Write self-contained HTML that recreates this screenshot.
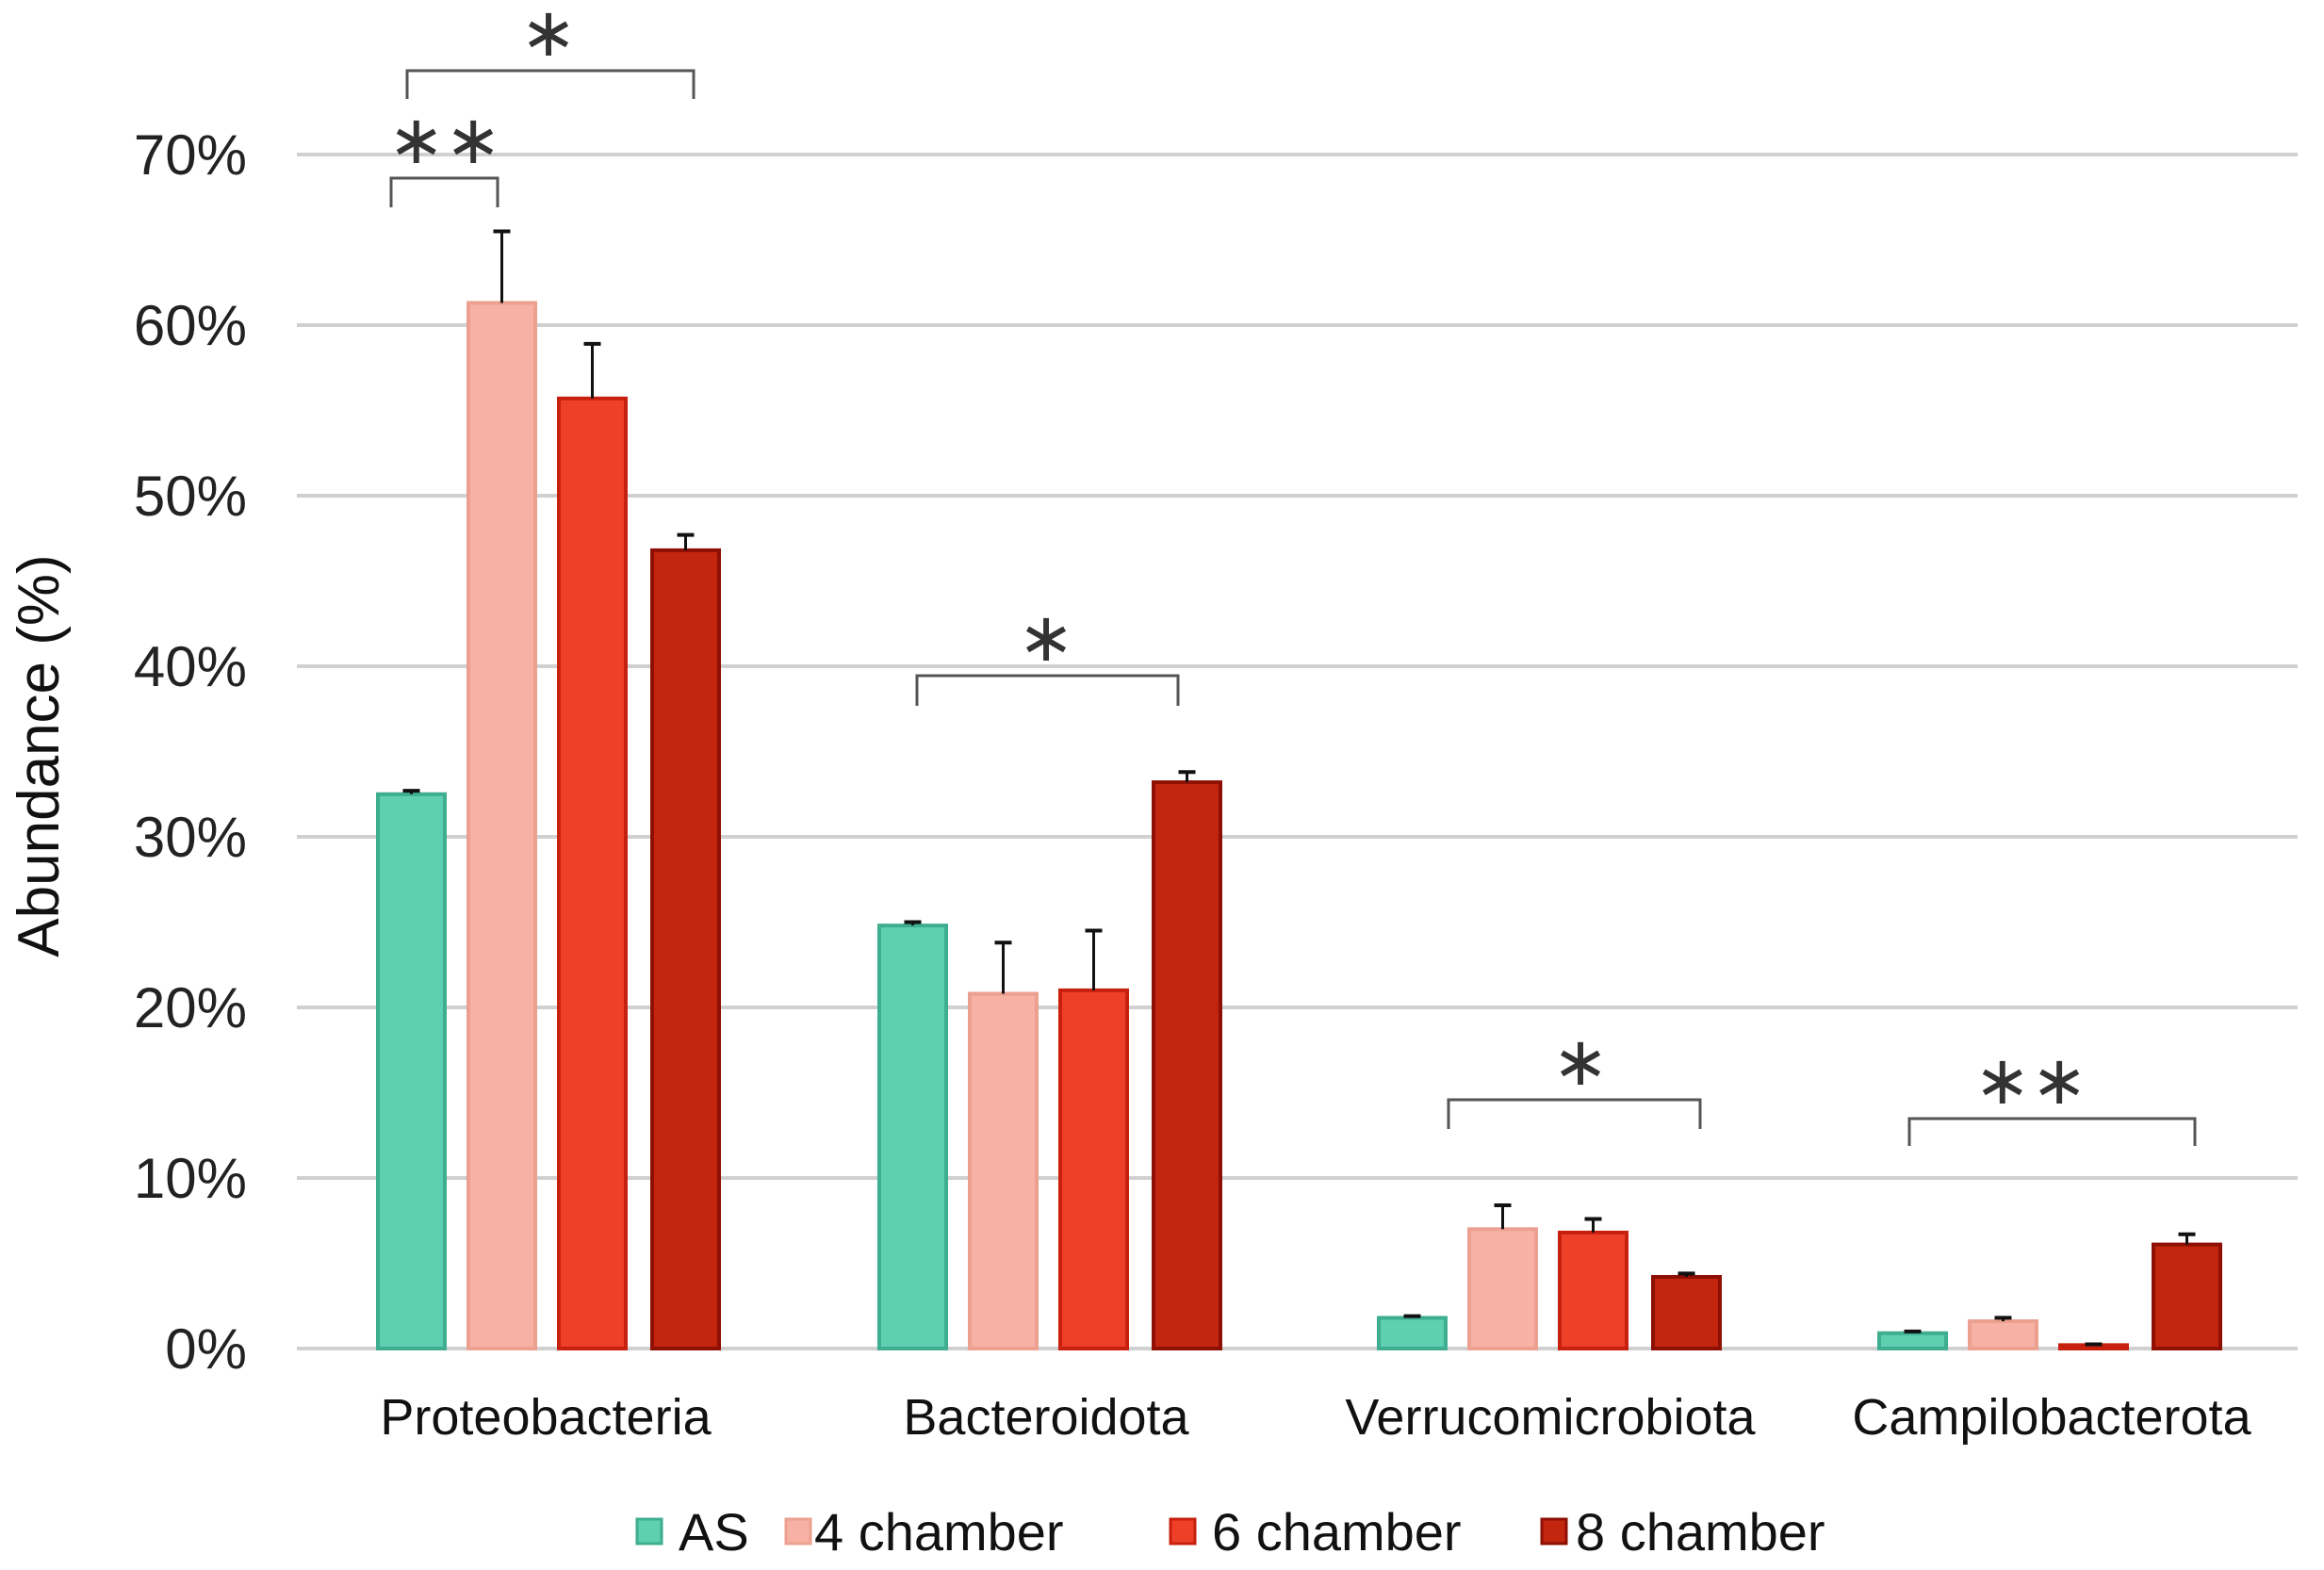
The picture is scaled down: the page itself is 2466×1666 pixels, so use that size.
<!DOCTYPE html>
<html><head><meta charset="utf-8"><style>html,body{margin:0;padding:0;background:#fff}svg{display:block}</style></head>
<body>
<svg id="s" width="2466" height="1666" viewBox="0 0 2466 1666" xmlns="http://www.w3.org/2000/svg" font-family="Liberation Sans, sans-serif"></svg>
<script>
const s=document.getElementById('s');let h='';
const Y=v=>1431-v*18.1;
for(let i=0;i<=7;i++){const y=Y(i*10);h+=`<line x1="315" x2="2438" y1="${y}" y2="${y}" stroke="#d0d0d0" stroke-width="4"/>`;
h+=`<text x="262" y="${y+21}" text-anchor="end" font-size="60" fill="#222">${i*10}%</text>`;}
h+=`<text transform="translate(62,802) rotate(-90)" text-anchor="middle" font-size="62" fill="#111">Abundance (%)</text>`;
const fill=['#5ecfb1','#f7b2a5','#ee4028','#c3260f'],brd=['#3fae90','#eca090','#c8200e','#8e1005'];
const data=[[32.5,61.3,55.7,46.8],[24.8,20.8,21.0,33.2],[1.8,7.0,6.8,4.2],[0.9,1.6,0.2,6.1]];
const err=[[0.2,4.2,3.2,0.9],[0.2,3.0,3.5,0.6],[0.1,1.4,0.8,0.2],[0.1,0.2,0.05,0.6]];
const gx=[401,933,1463,1994],off=[0,96,192,291];
const names=['Proteobacteria','Bacteroidota','Verrucomicrobiota','Campilobacterota'],cx=[579,1110,1645,2177];
for(let g=0;g<4;g++){for(let b=0;b<4;b++){const x=gx[g]+off[b],y=Y(data[g][b]),w=71;
h+=`<rect x="${x}" y="${y}" width="${w}" height="${1431-y}" fill="${fill[b]}" stroke="${brd[b]}" stroke-width="4"/>`;
const ye=Y(data[g][b]+err[g][b]),m=x+w/2;
h+=`<line x1="${m}" x2="${m}" y1="${y}" y2="${ye}" stroke="#111" stroke-width="3"/><line x1="${m-9}" x2="${m+9}" y1="${ye}" y2="${ye}" stroke="#111" stroke-width="4"/>`;}
h+=`<text x="${cx[g]}" y="1522" text-anchor="middle" font-size="54" fill="#111">${names[g]}</text>`;}
const br=[[415,528,189,220,472,'∗∗'],[432,736,75,105,582,'∗'],[973,1250,717,749,1110,'∗'],[1537,1804,1167,1198,1677,'∗'],[2026,2329,1187,1216,2155,'∗∗']];
br.forEach(([a,b,t,bt,tx,st])=>{h+=`<path d="M${a} ${bt}V${t}H${b}V${bt}" fill="none" stroke="#555" stroke-width="3"/>`;
h+=`<text x="${tx}" y="${t-16}" text-anchor="middle" font-size="72" fill="#333">${st}</text>`;});
const lg=[[676,720,'AS'],[834,864,'4 chamber'],[1242,1286,'6 chamber'],[1636,1672,'8 chamber']];
lg.forEach(([sx,tx,t],i)=>{h+=`<rect x="${sx}" y="1612" width="26" height="26" fill="${fill[i]}" stroke="${brd[i]}" stroke-width="3"/>`;
h+=`<text x="${tx}" y="1645" font-size="56" fill="#111">${t}</text>`;});
s.innerHTML=h;
</script>
</body></html>
